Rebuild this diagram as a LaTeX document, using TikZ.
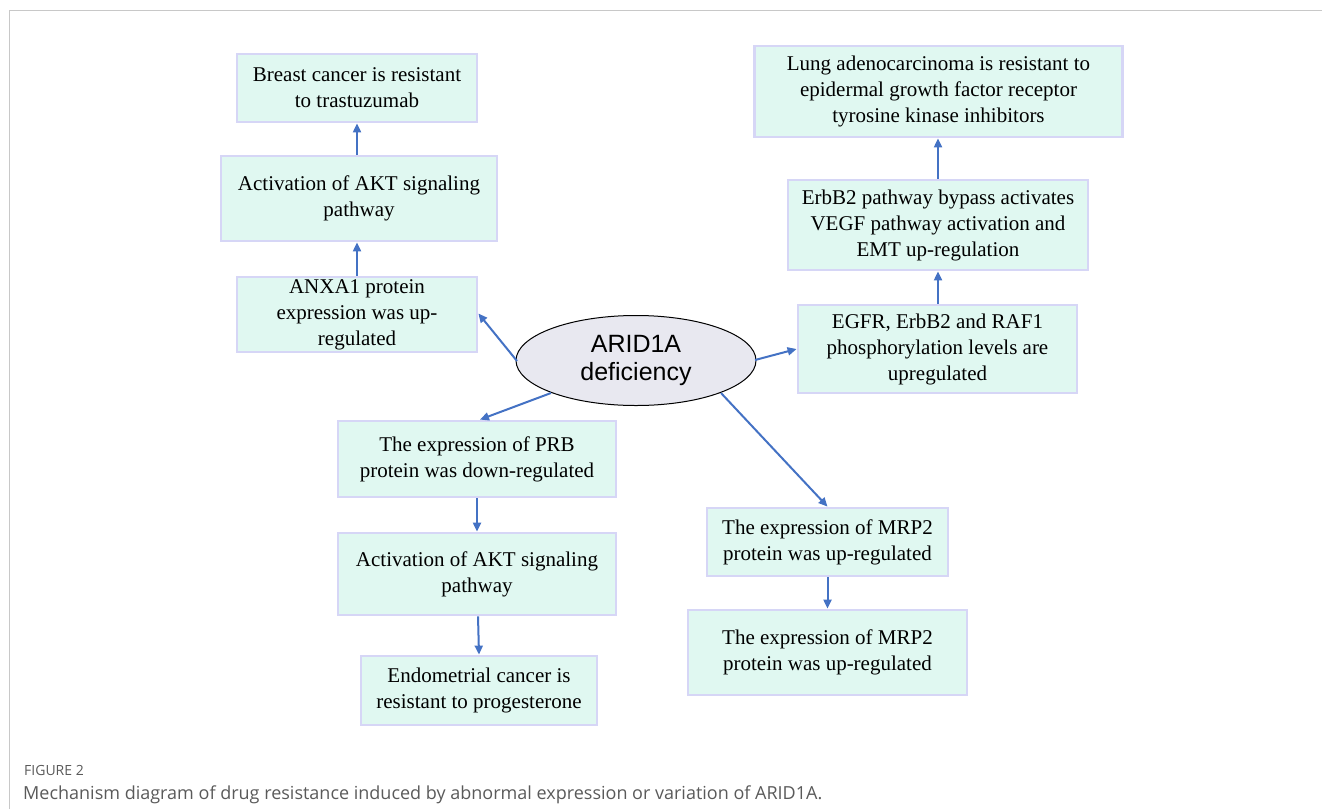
\documentclass[tikz,border=0pt]{standalone}
\usepackage{fontspec}
\setmainfont{Liberation Serif}
\newfontfamily\arialfont{Liberation Sans}
\newfontfamily\capfont{Open Sans}
\usetikzlibrary{arrows.meta,shapes.geometric}
\definecolor{boxfill}{HTML}{E0F8F1}
\definecolor{boxline}{HTML}{D6D6F6}
\definecolor{arrowc}{HTML}{4472C4}
\definecolor{ellfill}{HTML}{E8E8F0}
\definecolor{framec}{HTML}{C8C8C8}
\definecolor{capc}{HTML}{5A5A5A}
\tikzset{
  box/.style={draw=boxline, line width=2.8pt, fill=boxfill, align=center, inner sep=0pt,
    font=\fontsize{21}{26}\selectfont},
  arr/.style={draw=arrowc, line width=2pt, -{Triangle[length=9pt,width=8pt]}},
}
\begin{document}
\begin{tikzpicture}[x=1pt,y=-1pt]
\useasboundingbox (0,0) rectangle (1322,809);
\draw[framec, line width=1.2pt] (9.5,809) -- (9.5,10.5) -- (1322,10.5);
% left column
\node[box, minimum width=240pt, minimum height=68pt] (b1) at (357,88) {Breast cancer is resistant\\to trastuzumab};
\node[box, minimum width=276pt, minimum height=85pt] (b2) at (359,198.5) {Activation of AKT signaling\\pathway};
\node[box, minimum width=240pt, minimum height=75pt] (b3) at (357,314.5) {ANXA1 protein\\expression was up-\\regulated};
% ellipse
\node[ellipse, draw=black, line width=1pt, fill=ellfill, minimum width=240pt, minimum height=90pt, inner sep=0pt, align=center,
  font=\arialfont\fontsize{25}{28}\selectfont] (e) at (636,360.5) {ARID1A\\deficiency};
% right column
\node[box, minimum width=368pt, minimum height=91pt] (r1) at (938.5,91.5) {Lung adenocarcinoma is resistant to\\epidermal growth factor receptor\\tyrosine kinase inhibitors};
\node[box, minimum width=300pt, minimum height=90pt] (r2) at (938,225) {ErbB2 pathway bypass activates\\VEGF pathway activation and\\EMT up-regulation};
\node[box, minimum width=279pt, minimum height=88pt] (r3) at (937.5,349) {EGFR, ErbB2 and RAF1\\phosphorylation levels are\\upregulated};
% middle column
\node[box, minimum width=278pt, minimum height=76pt] (m1) at (477,459) {The expression of PRB\\protein was down-regulated};
\node[box, minimum width=278pt, minimum height=82pt] (m2) at (477,574) {Activation of AKT signaling\\pathway};
\node[box, minimum width=236pt, minimum height=69pt] (m3) at (479,690.5) {Endometrial cancer is\\resistant to progesterone};
% right bottom
\node[box, minimum width=241pt, minimum height=68pt] (n1) at (827.5,542) {The expression of MRP2\\protein was up-regulated};
\node[box, minimum width=279pt, minimum height=85pt] (n2) at (827.5,652.5) {The expression of MRP2\\protein was up-regulated};
% arrow start points on the ellipse
\coordinate (s1) at (517,361);
\coordinate (s2) at (551,393);
\coordinate (s3) at (755,360);
\coordinate (s4) at (721,393);
% arrows
\draw[arr] (b3.north -| 357,0) -- (b2.south -| 357,0);
\draw[arr] (b2.north -| 357,0) -- (b1.south -| 357,0);
\draw[arr] (s1) -- ([yshift=1pt]b3.east);
\draw[arr] (s2) -- (m1.north -| 480,0);
\draw[arr] (s3) -- (r3.west);
\draw[arr] (r3.north -| 938,0) -- (r2.south -| 938,0);
\draw[arr] (r2.north -| 938,0) -- (r1.south -| 938,0);
\draw[arr] (s4) -- (n1.north);
\draw[arr] (m1.south) -- (m2.north);
\draw[arr] (m2.south -| 478,0) -- (m3.north -| 479,0);
\draw[arr] (n1.south) -- (n2.north);
% caption
\node[anchor=west, text=capc, inner sep=0pt, font=\capfont\fontsize{14}{16}\selectfont] (fig) at (24,770) {FIGURE 2};
\node[anchor=west, text=capc, inner sep=0pt, font=\capfont\fontsize{18}{20}\selectfont] (cap) at (23,795) {Mechanism diagram of drug resistance induced by abnormal expression or variation of ARID1A.};
\end{tikzpicture}
\end{document}
